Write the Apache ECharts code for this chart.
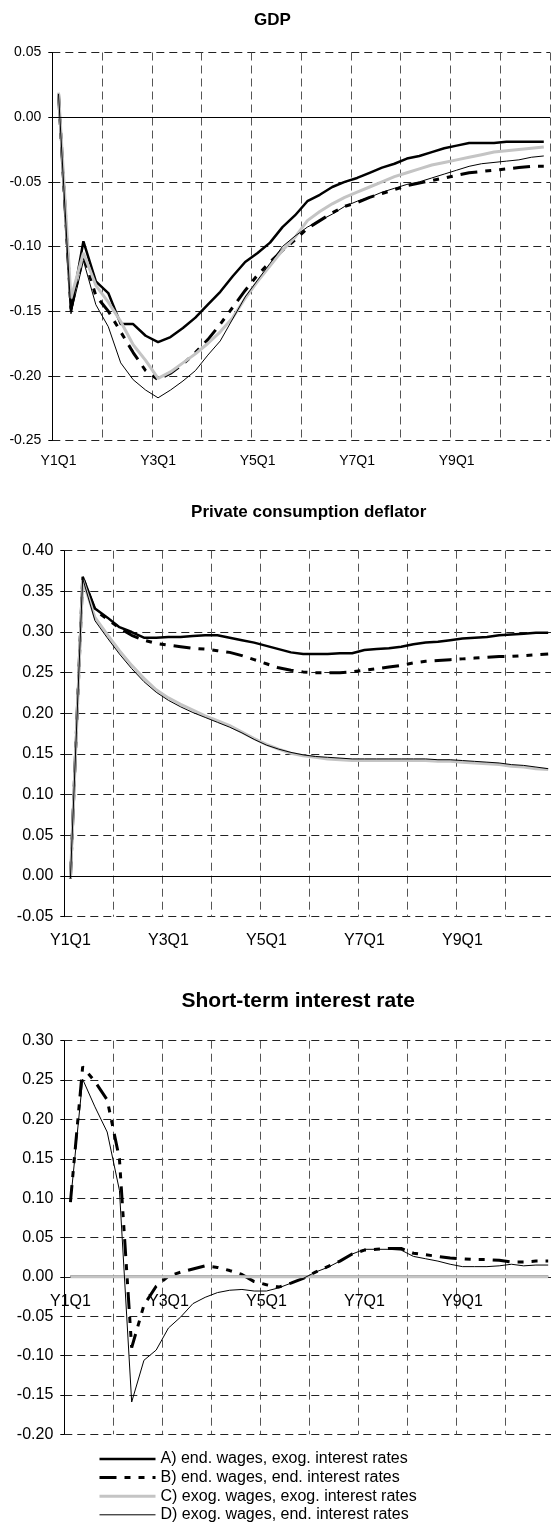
<!DOCTYPE html>
<html>
<head>
<meta charset="utf-8">
<title>Simulation results</title>
<script src="https://cdn.jsdelivr.net/npm/echarts@6.0.0/dist/echarts.min.js"></script>
<style>
  html, body { margin: 0; padding: 0; background: #fff; }
  #main { width: 551px; height: 1524px; }
</style>
</head>
<body>
<div id="main"></div>
<script>
var quarters = [
  'Y1Q1', 'Y1Q2', 'Y1Q3', 'Y1Q4', 'Y2Q1', 'Y2Q2', 'Y2Q3', 'Y2Q4',
  'Y3Q1', 'Y3Q2', 'Y3Q3', 'Y3Q4', 'Y4Q1', 'Y4Q2', 'Y4Q3', 'Y4Q4',
  'Y5Q1', 'Y5Q2', 'Y5Q3', 'Y5Q4', 'Y6Q1', 'Y6Q2', 'Y6Q3', 'Y6Q4',
  'Y7Q1', 'Y7Q2', 'Y7Q3', 'Y7Q4', 'Y8Q1', 'Y8Q2', 'Y8Q3', 'Y8Q4',
  'Y9Q1', 'Y9Q2', 'Y9Q3', 'Y9Q4', 'Y10Q1', 'Y10Q2', 'Y10Q3', 'Y10Q4'
];

var scenarioNames = [
  'A) end. wages, exog. interest rates',
  'B) end. wages, end. interest rates',
  'C) exog. wages, exog. interest rates',
  'D) exog. wages, end. interest rates'
];

var titles = ['GDP', 'Private consumption deflator', 'Short-term interest rate'];

// y axis tick labels of the three panels
var gdpTicks = [-0.25, -0.20, -0.15, -0.10, -0.05, 0.00, 0.05];
var pcdTicks = [-0.05, 0.00, 0.05, 0.10, 0.15, 0.20, 0.25, 0.30, 0.35, 0.40];
var rateTicks = [-0.20, -0.15, -0.10, -0.05, 0.00, 0.05, 0.10, 0.15, 0.20, 0.25, 0.30];

// GDP
var gdpA = [0.018, -0.150, -0.096, -0.127, -0.136, -0.160, -0.160, -0.169, -0.174, -0.170,
  -0.163, -0.155, -0.145, -0.135, -0.123, -0.112, -0.105, -0.097, -0.085, -0.076,
  -0.065, -0.060, -0.054, -0.050, -0.047, -0.043, -0.039, -0.036, -0.032, -0.030,
  -0.027, -0.024, -0.022, -0.020, -0.020, -0.020, -0.019, -0.019, -0.019, -0.019];
var gdpB = [0.018, -0.148, -0.107, -0.138, -0.150, -0.166, -0.182, -0.196, -0.203, -0.198,
  -0.191, -0.182, -0.172, -0.160, -0.147, -0.134, -0.122, -0.112, -0.103, -0.095,
  -0.086, -0.080, -0.074, -0.069, -0.066, -0.062, -0.059, -0.056, -0.053, -0.051,
  -0.049, -0.047, -0.045, -0.043, -0.042, -0.041, -0.040, -0.039, -0.038, -0.038];
var gdpC = [0.019, -0.140, -0.105, -0.130, -0.143, -0.158, -0.176, -0.188, -0.202, -0.197,
  -0.190, -0.183, -0.175, -0.166, -0.155, -0.140, -0.127, -0.115, -0.103, -0.093,
  -0.080, -0.073, -0.067, -0.062, -0.058, -0.054, -0.050, -0.046, -0.043, -0.040,
  -0.037, -0.035, -0.033, -0.031, -0.029, -0.027, -0.026, -0.025, -0.024, -0.023];
var gdpD = [0.018, -0.152, -0.111, -0.145, -0.162, -0.190, -0.203, -0.211, -0.217, -0.211,
  -0.204, -0.196, -0.184, -0.173, -0.156, -0.139, -0.126, -0.113, -0.100, -0.092,
  -0.085, -0.080, -0.075, -0.069, -0.065, -0.062, -0.058, -0.055, -0.052, -0.050,
  -0.047, -0.044, -0.041, -0.038, -0.036, -0.035, -0.034, -0.033, -0.031, -0.030];

// private consumption deflator
var pcdA = [-0.003, 0.368, 0.329, 0.318, 0.306, 0.300, 0.293, 0.293, 0.294, 0.294,
  0.295, 0.296, 0.296, 0.293, 0.290, 0.287, 0.283, 0.279, 0.275, 0.273,
  0.273, 0.273, 0.274, 0.274, 0.278, 0.279, 0.280, 0.282, 0.285, 0.287,
  0.288, 0.290, 0.292, 0.293, 0.294, 0.296, 0.297, 0.298, 0.299, 0.299];
var pcdB = [-0.003, 0.367, 0.327, 0.316, 0.305, 0.296, 0.290, 0.286, 0.284, 0.282,
  0.280, 0.279, 0.277, 0.275, 0.271, 0.266, 0.261, 0.256, 0.253, 0.251,
  0.250, 0.250, 0.250, 0.251, 0.253, 0.255, 0.257, 0.259, 0.262, 0.264,
  0.265, 0.266, 0.267, 0.268, 0.269, 0.270, 0.270, 0.271, 0.272, 0.273];
var pcdC = [-0.003, 0.364, 0.318, 0.297, 0.277, 0.259, 0.243, 0.229, 0.219, 0.211,
  0.204, 0.197, 0.191, 0.185, 0.177, 0.169, 0.162, 0.156, 0.151, 0.148,
  0.146, 0.144, 0.143, 0.142, 0.142, 0.142, 0.142, 0.142, 0.142, 0.142,
  0.141, 0.141, 0.140, 0.139, 0.138, 0.137, 0.135, 0.134, 0.132, 0.131];
var pcdD = [-0.003, 0.366, 0.314, 0.293, 0.273, 0.255, 0.239, 0.226, 0.216, 0.208,
  0.201, 0.195, 0.189, 0.183, 0.176, 0.168, 0.161, 0.156, 0.152, 0.149,
  0.147, 0.146, 0.145, 0.144, 0.144, 0.144, 0.144, 0.144, 0.144, 0.144,
  0.143, 0.143, 0.142, 0.141, 0.140, 0.139, 0.137, 0.136, 0.134, 0.132];

// short-term interest rate (A and C keep rates exogenous)
var rateA = [0, 0, 0, 0, 0, 0, 0, 0, 0, 0, 0, 0, 0, 0, 0, 0, 0, 0, 0, 0,
  0, 0, 0, 0, 0, 0, 0, 0, 0, 0, 0, 0, 0, 0, 0, 0, 0, 0, 0, 0];
var rateB = [0.095, 0.267, 0.248, 0.225, 0.150, -0.090, -0.036, -0.012, 0.001, 0.006,
  0.010, 0.014, 0.012, 0.008, 0.003, -0.006, -0.010, -0.013, -0.008, -0.002,
  0.006, 0.013, 0.020, 0.029, 0.034, 0.035, 0.036, 0.036, 0.030, 0.028,
  0.026, 0.024, 0.023, 0.022, 0.022, 0.021, 0.019, 0.019, 0.020, 0.020];
var rateC = [0, 0, 0, 0, 0, 0, 0, 0, 0, 0, 0, 0, 0, 0, 0, 0, 0, 0, 0, 0,
  0, 0, 0, 0, 0, 0, 0, 0, 0, 0, 0, 0, 0, 0, 0, 0, 0, 0, 0, 0];
var rateD = [0.095, 0.251, 0.216, 0.184, 0.110, -0.159, -0.106, -0.093, -0.065, -0.051,
  -0.034, -0.026, -0.020, -0.017, -0.016, -0.018, -0.018, -0.014, -0.008, -0.002,
  0.006, 0.012, 0.020, 0.029, 0.035, 0.035, 0.035, 0.034, 0.026, 0.023,
  0.020, 0.016, 0.013, 0.013, 0.013, 0.014, 0.016, 0.014, 0.015, 0.015];

var FONT = '"Liberation Sans", Arial, sans-serif';

var grids = [
  { left: 52.3, top: 52.5, width: 497.7, height: 388, outerBoundsMode: 'none' },
  { left: 64.3, top: 550.7, width: 490, height: 366, outerBoundsMode: 'none' },
  { left: 64.3, top: 1040.7, width: 490, height: 393.6, outerBoundsMode: 'none' }
];

var lineStyles = [
  { color: '#000', width: 2.5, type: 'solid' },
  { color: '#000', width: 3, type: [17, 8, 6, 8, 6, 8] },
  { color: '#c4c4c4', width: 3, type: 'solid' },
  { color: '#000', width: 1, type: 'solid' }
];

// offset that lifts the category labels from the bottom edge up to the zero line
function zeroOffset(idx, ticks) {
  var lo = ticks[0], hi = ticks[ticks.length - 1];
  return -grids[idx].height * (0 - lo) / (hi - lo);
}

function makeXAxis(idx, fontSize, margin, offset) {
  return {
    type: 'category',
    gridIndex: idx,
    data: quarters,
    boundaryGap: true,
    offset: offset,
    axisLine: { show: false, onZero: false },
    axisTick: { show: false },
    axisLabel: { interval: 7, color: '#000', fontSize: fontSize, fontFamily: FONT, margin: margin },
    splitLine: { show: true, interval: 3, lineStyle: { color: '#555', width: 1, type: [8, 5] } }
  };
}

function makeYAxis(idx, ticks, fontSize) {
  return {
    type: 'value',
    gridIndex: idx,
    min: ticks[0],
    max: ticks[ticks.length - 1],
    interval: Math.round((ticks[1] - ticks[0]) * 100) / 100,
    axisLine: { show: true, lineStyle: { color: '#000', width: 1 } },
    axisTick: { show: true, length: 4, lineStyle: { color: '#000' } },
    axisLabel: {
      color: '#000', fontSize: fontSize, fontFamily: FONT, margin: 11,
      formatter: function (v) { return v.toFixed(2); }
    },
    splitLine: { show: true, lineStyle: { color: '#222', width: 1, type: [8, 5] } }
  };
}

function makeSeries(idx, values, zeroLine) {
  return values.map(function (data, k) {
    var s = {
      name: scenarioNames[k],
      type: 'line',
      xAxisIndex: idx,
      yAxisIndex: idx,
      data: data,
      symbol: 'none',
      color: lineStyles[k].color,
      lineStyle: lineStyles[k],
      z: 2 + k
    };
    // solid zero line of the first two panels
    if (zeroLine && k === 0) {
      s.markLine = {
        silent: true, symbol: 'none', label: { show: false },
        lineStyle: { color: '#000', width: 1, type: 'solid' },
        data: [{ yAxis: 0 }]
      };
    }
    return s;
  });
}

var myChart = echarts.init(document.getElementById('main'));

myChart.setOption({
  animation: false,
  backgroundColor: '#fff',
  grid: grids,
  xAxis: [
    makeXAxis(0, 14, 13.5, 0),
    makeXAxis(1, 16, 16.3, 0),
    makeXAxis(2, 16, 17, zeroOffset(2, rateTicks))
  ],
  yAxis: [
    makeYAxis(0, gdpTicks, 14),
    makeYAxis(1, pcdTicks, 16),
    makeYAxis(2, rateTicks, 16)
  ],
  graphic: [
    { type: 'text', x: 272.5, y: 20, style: { text: titles[0], font: 'bold 17px ' + FONT, fill: '#000', align: 'center', verticalAlign: 'middle' } },
    { type: 'text', x: 308.7, y: 512, style: { text: titles[1], font: 'bold 17px ' + FONT, fill: '#000', align: 'center', verticalAlign: 'middle' } },
    { type: 'text', x: 298.2, y: 1001.7, style: { text: titles[2], font: 'bold 21px ' + FONT, fill: '#000', align: 'center', verticalAlign: 'middle' } }
  ],
  legend: {
    data: scenarioNames,
    orient: 'vertical',
    left: 98,
    top: 1451,
    padding: 0,
    itemWidth: 56,
    itemHeight: 14,
    itemGap: 2.6,
    selectedMode: false,
    itemStyle: { opacity: 0, borderWidth: 0 },
    lineStyle: { width: 'inherit' },
    textStyle: { color: '#000', fontSize: 16, fontFamily: FONT }
  },
  series: [].concat(
    makeSeries(0, [gdpA, gdpB, gdpC, gdpD], true),
    makeSeries(1, [pcdA, pcdB, pcdC, pcdD], true),
    makeSeries(2, [rateA, rateB, rateC, rateD], false)
  )
});
</script>
</body>
</html>
